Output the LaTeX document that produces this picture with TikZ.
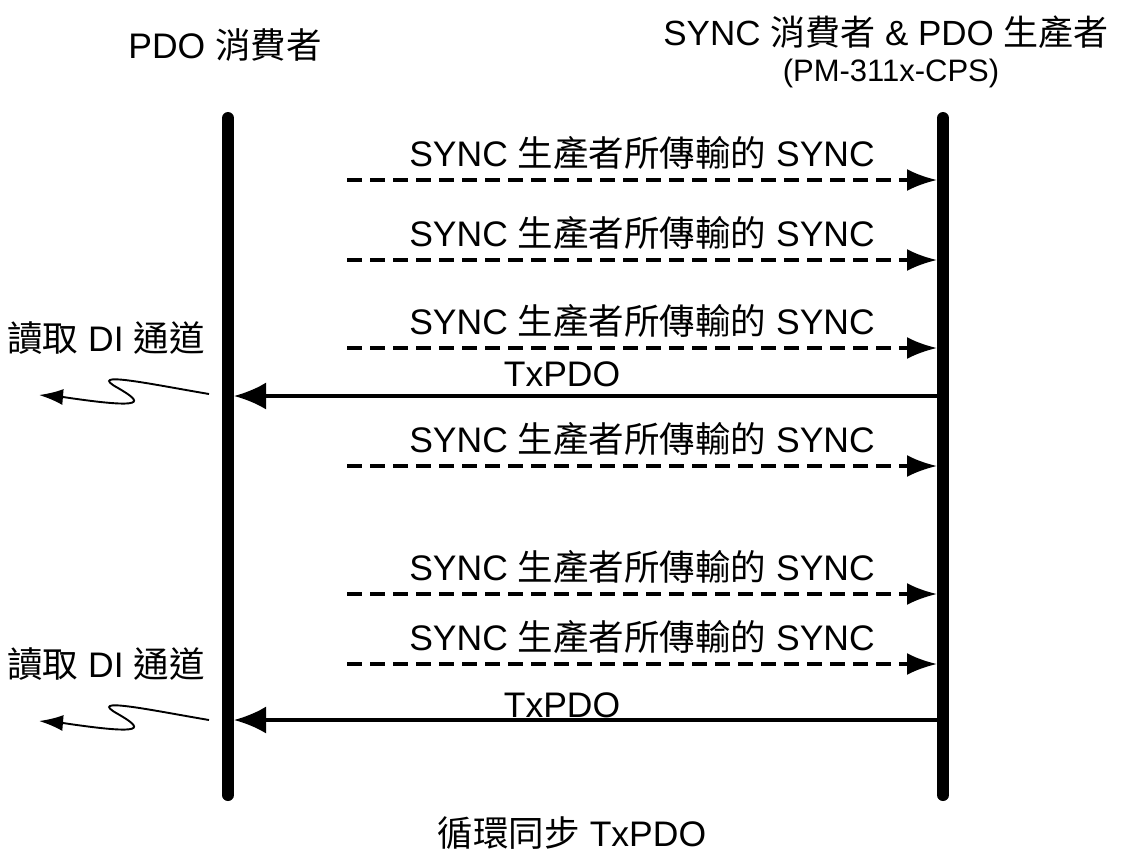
\documentclass[tikz,border=0pt]{standalone}
\usepackage{fontspec}
\setmainfont{Liberation Sans}
\newfontfamily\cjk{Noto Sans CJK TC}
\usetikzlibrary{arrows.meta,calc}
\newcommand{\zh}[1]{{\cjk #1}}

\begin{document}
\begin{tikzpicture}[x=1pt,y=-1pt,
	lifeline/.style={line width=12pt,line cap=round},
	sync/.style={-{Latex[length=30pt,width=22pt]},line width=3.4pt,dash pattern=on 15pt off 8pt},
	txpdo/.style={-{Latex[length=32pt,width=27pt]},line width=3.4pt},
	wave/.style={-{Latex[length=24pt,width=16pt]},line width=1.9pt},
	lbl/.style={font=\fontsize{35.5}{42}\selectfont,inner sep=0pt}]

\useasboundingbox (0,0) rectangle (1132,855);

\def\xl{228}
\def\xr{943}

% lifelines
\coordinate (ltop) at (\xl,118);
\coordinate (lbot) at (\xl,795);
\coordinate (rtop) at (\xr,118);
\coordinate (rbot) at (\xr,795);
\draw[lifeline] (ltop)--(lbot);
\draw[lifeline] (rtop)--(rbot);

\node[lbl] (cons) at (225,45) {PDO \zh{消費者}};
\node[lbl,font=\fontsize{35}{42}\selectfont] (prod) at (886,32) {SYNC \zh{消費者} \& PDO \zh{生產者}};
\node[lbl,font=\fontsize{31}{36}\selectfont] (model) at (891,73) {(PM-311x-CPS)};

% SYNC messages
\foreach \y [count=\i] in {180,260,348,466,594,664}{
	\coordinate (s\i) at (347,\y);
	\coordinate (e\i) at ({\xr-6},\y);
	\draw[sync] (s\i)--(e\i);
	\node[lbl] (sl\i) at ($(s\i)!0.5!(e\i)+(0,-27)$) {SYNC \zh{生產者所傳輸的} SYNC};
}

% TxPDO messages
\foreach \y/\ly [count=\i] in {396/374,720/705}{
	\coordinate (t\i) at (\xr,\y);
	\coordinate (r\i) at ({\xl+6},\y);
	\draw[txpdo] (t\i)--(r\i);
	\node[lbl] (tl\i) at (562,\ly) {TxPDO};
}

% read DI channels
\foreach \d [count=\i] in {0,326}{
	\begin{scope}[shift={(0,\d)}]
	\node[lbl] (di\i) at (106,338) {\zh{讀取} DI \zh{通道}};
	\coordinate (w\i) at (209,394);
	\coordinate (a\i) at (39,395);
	\draw[wave] (w\i) .. controls (150,384) and (85,370) .. (118,388)
		.. controls (142,402) and (150,410) .. (63,397) -- (a\i);
	\end{scope}
}

\node[lbl] (cap) at (572,833) {\zh{循環同步} TxPDO};

\end{tikzpicture}
\end{document}
